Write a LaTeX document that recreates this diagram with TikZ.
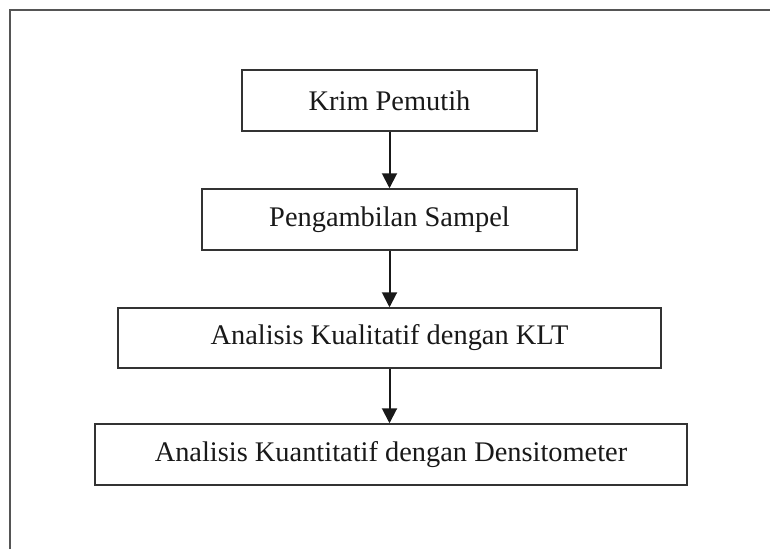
\documentclass[tikz,border=0pt]{standalone}
\usepackage{fontspec}
\setmainfont{Liberation Serif}
\usetikzlibrary{arrows.meta}
\definecolor{boxline}{HTML}{333333}
\definecolor{frameline}{HTML}{555555}
\begin{document}
\begin{tikzpicture}[x=1pt,y=-1pt,
  stepbox/.style={draw=boxline,line width=1.5pt,inner sep=0pt,minimum height=61pt,
    font=\fontsize{28.4}{31}\selectfont,text=black!90},
  flowarrow/.style={line width=2pt,draw=black!90,-{Triangle[width=15pt,length=15pt]}}]
\useasboundingbox (0,0) rectangle (770,549);
\fill[white] (0,0) rectangle (770,549);
\draw[frameline,line width=2pt] (10,549) -- (10,10) -- (770,10);
\node[stepbox,minimum width=295pt] (a) at (389.5,100.5) {Krim Pemutih};
\node[stepbox,minimum width=375pt] (b) at (389.5,219.5) {Pengambilan Sampel};
\node[stepbox,minimum width=543pt,minimum height=60pt] (c) at (389.5,338) {Analisis Kualitatif dengan KLT};
\node[stepbox,minimum width=592pt] (d) at (391,454.5) {Analisis Kuantitatif dengan Densitometer};
\draw[flowarrow] (a.south) -- (b.north);
\draw[flowarrow] (b.south) -- (c.north);
\draw[flowarrow] (c.south) -- (c.south |- d.north);
\end{tikzpicture}
\end{document}
